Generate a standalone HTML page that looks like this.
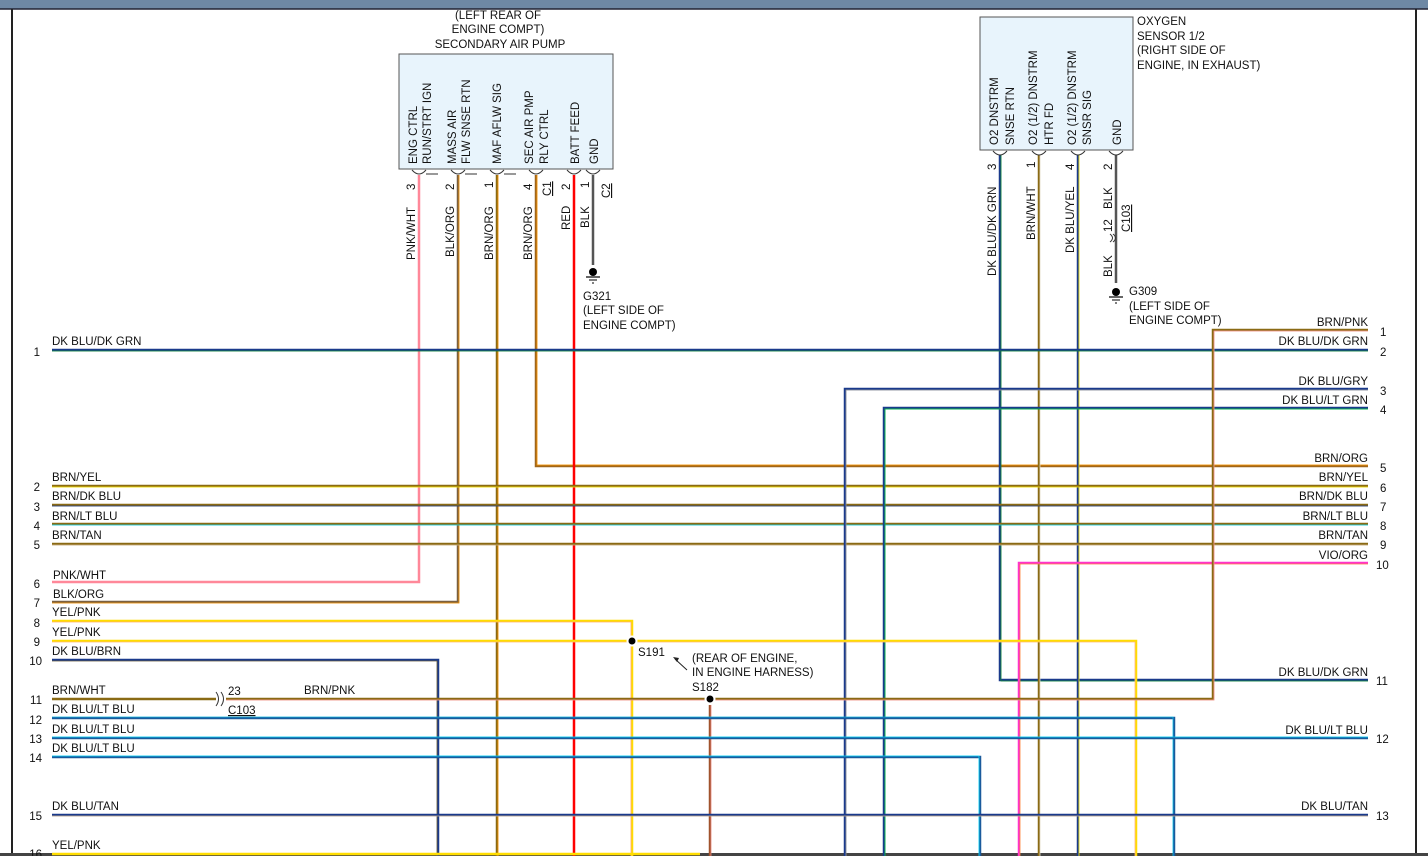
<!DOCTYPE html>
<html><head><meta charset="utf-8"><style>
html,body{margin:0;padding:0;background:#fff}
svg{display:block}
text{font-family:"Liberation Sans",sans-serif;font-size:11.5px;fill:#111}
</style></head><body>
<svg width="1428" height="856" viewBox="0 0 1428 856" xmlns="http://www.w3.org/2000/svg">
<rect x="0" y="0" width="1428" height="9" fill="#6e88a4"/>
<line x1="0" y1="9" x2="1428" y2="9" stroke="#223" stroke-width="1.5"/>
<line x1="12" y1="9" x2="12" y2="856" stroke="#222" stroke-width="2"/>
<line x1="1416" y1="9" x2="1416" y2="856" stroke="#222" stroke-width="2"/>
<rect x="0" y="853" width="1428" height="3" fill="#444"/>

<g fill="none" stroke-linejoin="miter">
<!-- wire helper: main + stripe -->
<!-- PNK/WHT -->
<path d="M419 175V582H52" stroke="#ff8899" stroke-width="2.5"/>
<!-- BLK/ORG -->
<path d="M458 175V602H52" stroke="#7a6040" stroke-width="2.5"/><path d="M459 175V603H52" stroke="#ff9900" stroke-width="0.8"/>
<!-- BRN/ORG 497 -->
<path d="M497 175V856" stroke="#8a6a14" stroke-width="2.5"/><path d="M498 175V856" stroke="#ff9900" stroke-width="0.8"/>
<!-- BRN/ORG 536 -->
<path d="M536 175V466H1368" stroke="#a0661a" stroke-width="2.5"/><path d="M537 175V465H1368" stroke="#ff9900" stroke-width="0.8"/>
<!-- RED -->
<path d="M574 175V856" stroke="#ff0000" stroke-width="2.5"/>
<!-- BLK gnd -->
<path d="M593 175V265" stroke="#555" stroke-width="2.5"/>

<!-- O2 wires -->
<path d="M1000 155V680H1368" stroke="#1a3a8c" stroke-width="2.5"/><path d="M1001 155V681H1368" stroke="#0a8a30" stroke-width="0.8"/>
<path d="M1039 155V856" stroke="#8a6a14" stroke-width="2.5"/><path d="M1040 155V856" stroke="#fff" stroke-width="0.6"/>
<path d="M1078 155V856" stroke="#1a3a8c" stroke-width="2.5"/><path d="M1079 155V856" stroke="#ffee00" stroke-width="0.8"/>
<path d="M1116 155V283" stroke="#555" stroke-width="2.5"/>

<!-- row 1 -->
<path d="M52 350H1368" stroke="#1a3a8c" stroke-width="2.5"/><path d="M52 351H1368" stroke="#0a8a30" stroke-width="0.8"/>
<!-- rows 2-5 -->
<path d="M52 486H1368" stroke="#8a6a14" stroke-width="2.5"/><path d="M52 487H1368" stroke="#ffee00" stroke-width="0.8"/>
<path d="M52 505H1368" stroke="#8a6a14" stroke-width="2.5"/><path d="M52 506H1368" stroke="#1a3a8c" stroke-width="0.8"/>
<path d="M52 524H1368" stroke="#8a6a14" stroke-width="2.5"/><path d="M52 525H1368" stroke="#00ddff" stroke-width="0.8"/>
<path d="M52 544H1368" stroke="#8a6a14" stroke-width="2.5"/><path d="M52 545H1368" stroke="#d2b48c" stroke-width="0.8"/>
<!-- right 3,4,10 -->
<path d="M845 856V389H1368" stroke="#1a3a8c" stroke-width="2.5"/><path d="M846 856V390H1368" stroke="#999" stroke-width="0.8"/>
<path d="M884 856V408H1368" stroke="#1a3a8c" stroke-width="2.5"/><path d="M885 856V409H1368" stroke="#0bb050" stroke-width="1"/>
<path d="M1019 856V563H1368" stroke="#ff33cc" stroke-width="2.5"/><path d="M1020 856V564H1368" stroke="#ff9900" stroke-width="0.6"/>
<!-- 8,9 yellow -->
<path d="M52 621H632V856" stroke="#ffdd00" stroke-width="2.5"/><path d="M52 622H631V856" stroke="#ff9999" stroke-width="0.6"/>
<path d="M52 641H1136V856" stroke="#ffdd00" stroke-width="2.5"/><path d="M52 642H1135V856" stroke="#ffaaaa" stroke-width="0.6"/>
<!-- 10 -->
<path d="M52 660H438V856" stroke="#1a3a8c" stroke-width="2.5"/><path d="M52 661H437V856" stroke="#8a6a14" stroke-width="0.6"/>
<!-- 11 -->
<path d="M52 699H216" stroke="#8a6a14" stroke-width="2.5"/>
<path d="M226 699H1213V330H1368" stroke="#8a6a14" stroke-width="2.5"/><path d="M226 700H1214V331H1368" stroke="#ff9999" stroke-width="0.8"/>
<path d="M710 705V856" stroke="#a0522d" stroke-width="2.5"/><path d="M711 705V856" stroke="#ff9999" stroke-width="0.6"/>
<path d="M216 692q5 7 0 14M221 692q5 7 0 14" stroke="#333" stroke-width="1"/>
<!-- 12-15 -->
<path d="M52 718H1174V856" stroke="#1a5a9c" stroke-width="2.5"/><path d="M52 717H1173V856" stroke="#00ddff" stroke-width="0.6"/>
<path d="M52 738H1368" stroke="#1a5a9c" stroke-width="2.5"/><path d="M52 737H1368" stroke="#00ddff" stroke-width="0.8"/>
<path d="M52 757H980V856" stroke="#1a5a9c" stroke-width="2.5"/><path d="M52 756H979V856" stroke="#00ddff" stroke-width="0.8"/>
<path d="M52 815H1368" stroke="#1a3a8c" stroke-width="2.5"/><path d="M52 816H1368" stroke="#d2b48c" stroke-width="0.8"/>
<path d="M52 854H700" stroke="#ffdd00" stroke-width="2.5"/>
</g>

<!-- splices -->
<circle cx="632" cy="641" r="4.5" fill="#000" stroke="#fff" stroke-width="2"/>
<circle cx="710" cy="699" r="4.5" fill="#000" stroke="#fff" stroke-width="2"/>
<line x1="687" y1="670" x2="675" y2="659" stroke="#222" stroke-width="1"/>
<path d="M673 657l6 1-2 4z" fill="#222"/>

<!-- grounds -->
<circle cx="593" cy="272" r="4" fill="#000"/>
<line x1="586" y1="277" x2="600" y2="277" stroke="#000" stroke-width="1.2"/>
<line x1="589" y1="280" x2="597" y2="280" stroke="#000"/>
<line x1="592" y1="283" x2="594" y2="283" stroke="#000"/>
<circle cx="1116" cy="292" r="4" fill="#000"/>
<line x1="1109" y1="297" x2="1123" y2="297" stroke="#000" stroke-width="1.2"/>
<line x1="1112" y1="300" x2="1120" y2="300" stroke="#000"/>
<line x1="1115" y1="303" x2="1117" y2="303" stroke="#000"/>
<path d="M1110 234q5 4 0 8M1113 234q5 4 0 8" stroke="#333" fill="none"/>

<!-- connector boxes -->
<rect x="399" y="54" width="214" height="115" fill="#e8f4fc" stroke="#555"/>
<rect x="980" y="17" width="153" height="133" fill="#e8f4fc" stroke="#555"/>
<g stroke="#333" fill="none" stroke-width="1">
<path d="M412 170q7 8 14 0M451 170q7 8 14 0M490 170q7 8 14 0M529 170q7 8 14 0M567 170q7 8 14 0M586 170q7 8 14 0"/>
<path d="M426 174h12M465 174h12M504 174h12M543 174h0"/>
<path d="M993 151q7 8 14 0M1032 151q7 8 14 0M1071 151q7 8 14 0M1109 151q7 8 14 0"/>
</g>

<!-- box labels -->
<g text-anchor="middle">
<text x="498" y="19">(LEFT REAR OF</text>
<text x="498" y="33">ENGINE COMPT)</text>
<text x="500" y="48">SECONDARY AIR PUMP</text>
</g>
<text x="1137" y="25">OXYGEN</text>
<text x="1137" y="40">SENSOR 1/2</text>
<text x="1137" y="54">(RIGHT SIDE OF</text>
<text x="1137" y="69">ENGINE, IN EXHAUST)</text>

<g>
<text transform="translate(417,164) rotate(-90)">ENG CTRL</text>
<text transform="translate(431,164) rotate(-90)">RUN/STRT IGN</text>
<text transform="translate(456,164) rotate(-90)">MASS AIR</text>
<text transform="translate(470,164) rotate(-90)">FLW SNSE RTN</text>
<text transform="translate(501,164) rotate(-90)">MAF AFLW SIG</text>
<text transform="translate(533,164) rotate(-90)">SEC AIR PMP</text>
<text transform="translate(548,164) rotate(-90)">RLY CTRL</text>
<text transform="translate(579,164) rotate(-90)">BATT FEED</text>
<text transform="translate(598,164) rotate(-90)">GND</text>
<text transform="translate(998,145) rotate(-90)">O2 DNSTRM</text>
<text transform="translate(1014,145) rotate(-90)">SNSE RTN</text>
<text transform="translate(1037,145) rotate(-90)">O2 (1/2) DNSTRM</text>
<text transform="translate(1053,145) rotate(-90)">HTR FD</text>
<text transform="translate(1076,145) rotate(-90)">O2 (1/2) DNSTRM</text>
<text transform="translate(1091,145) rotate(-90)">SNSR SIG</text>
<text transform="translate(1121,145) rotate(-90)">GND</text>

<text transform="translate(415,190) rotate(-90)">3</text>
<text transform="translate(454,190) rotate(-90)">2</text>
<text transform="translate(493,188) rotate(-90)">1</text>
<text transform="translate(532,190) rotate(-90)">4</text>
<text transform="translate(551,196) rotate(-90)" text-decoration="underline">C1</text>
<text transform="translate(570,190) rotate(-90)">2</text>
<text transform="translate(589,188) rotate(-90)">1</text>
<text transform="translate(610,198) rotate(-90)" text-decoration="underline">C2</text>
<text transform="translate(415,260) rotate(-90)">PNK/WHT</text>
<text transform="translate(454,257) rotate(-90)">BLK/ORG</text>
<text transform="translate(493,260) rotate(-90)">BRN/ORG</text>
<text transform="translate(532,260) rotate(-90)">BRN/ORG</text>
<text transform="translate(570,230) rotate(-90)">RED</text>
<text transform="translate(589,228) rotate(-90)">BLK</text>

<text transform="translate(996,170) rotate(-90)">3</text>
<text transform="translate(1035,168) rotate(-90)">1</text>
<text transform="translate(1074,170) rotate(-90)">4</text>
<text transform="translate(1112,170) rotate(-90)">2</text>
<text transform="translate(996,276) rotate(-90)">DK BLU/DK GRN</text>
<text transform="translate(1035,240) rotate(-90)">BRN/WHT</text>
<text transform="translate(1074,253) rotate(-90)">DK BLU/YEL</text>
<text transform="translate(1112,209) rotate(-90)">BLK</text>
<text transform="translate(1112,232) rotate(-90)">12</text>
<text transform="translate(1130,232) rotate(-90)" text-decoration="underline">C103</text>
<text transform="translate(1112,277) rotate(-90)">BLK</text>
</g>

<text x="583" y="300">G321</text>
<text x="583" y="314">(LEFT SIDE OF</text>
<text x="583" y="329">ENGINE COMPT)</text>
<text x="1129" y="295">G309</text>
<text x="1129" y="310">(LEFT SIDE OF</text>
<text x="1129" y="324">ENGINE COMPT)</text>

<text x="638" y="656">S191</text>
<text x="692" y="662">(REAR OF ENGINE,</text>
<text x="692" y="676">IN ENGINE HARNESS)</text>
<text x="692" y="691">S182</text>
<text x="228" y="695">23</text>
<text x="228" y="714" text-decoration="underline">C103</text>
<text x="304" y="694">BRN/PNK</text>

<!-- left labels -->
<g text-anchor="end">
<text x="40" y="356">1</text><text x="40" y="491">2</text><text x="40" y="511">3</text><text x="40" y="530">4</text><text x="40" y="549">5</text>
<text x="40" y="588">6</text><text x="40" y="607">7</text><text x="40" y="627">8</text><text x="40" y="646">9</text><text x="42" y="665">10</text>
<text x="42" y="704">11</text><text x="42" y="724">12</text><text x="42" y="743">13</text><text x="42" y="762">14</text><text x="42" y="820">15</text><text x="42" y="858">16</text>
</g>
<text x="52" y="345">DK BLU/DK GRN</text>
<text x="52" y="481">BRN/YEL</text>
<text x="52" y="500">BRN/DK BLU</text>
<text x="52" y="520">BRN/LT BLU</text>
<text x="52" y="539">BRN/TAN</text>
<text x="53" y="579">PNK/WHT</text>
<text x="53" y="598">BLK/ORG</text>
<text x="52" y="616">YEL/PNK</text>
<text x="52" y="636">YEL/PNK</text>
<text x="52" y="655">DK BLU/BRN</text>
<text x="52" y="694">BRN/WHT</text>
<text x="52" y="713">DK BLU/LT BLU</text>
<text x="52" y="733">DK BLU/LT BLU</text>
<text x="52" y="752">DK BLU/LT BLU</text>
<text x="52" y="810">DK BLU/TAN</text>
<text x="52" y="849">YEL/PNK</text>

<!-- right labels -->
<g text-anchor="end">
<text x="1368" y="326">BRN/PNK</text>
<text x="1368" y="345">DK BLU/DK GRN</text>
<text x="1368" y="385">DK BLU/GRY</text>
<text x="1368" y="404">DK BLU/LT GRN</text>
<text x="1368" y="462">BRN/ORG</text>
<text x="1368" y="481">BRN/YEL</text>
<text x="1368" y="500">BRN/DK BLU</text>
<text x="1368" y="520">BRN/LT BLU</text>
<text x="1368" y="539">BRN/TAN</text>
<text x="1368" y="559">VIO/ORG</text>
<text x="1368" y="676">DK BLU/DK GRN</text>
<text x="1368" y="734">DK BLU/LT BLU</text>
<text x="1368" y="810">DK BLU/TAN</text>
</g>
<g>
<text x="1380" y="336">1</text><text x="1380" y="356">2</text><text x="1380" y="395">3</text><text x="1380" y="414">4</text>
<text x="1380" y="472">5</text><text x="1380" y="492">6</text><text x="1380" y="511">7</text><text x="1380" y="530">8</text><text x="1380" y="549">9</text><text x="1376" y="569">10</text>
<text x="1376" y="685">11</text><text x="1376" y="743">12</text><text x="1376" y="820">13</text>
</g>
</svg>
</body></html>
